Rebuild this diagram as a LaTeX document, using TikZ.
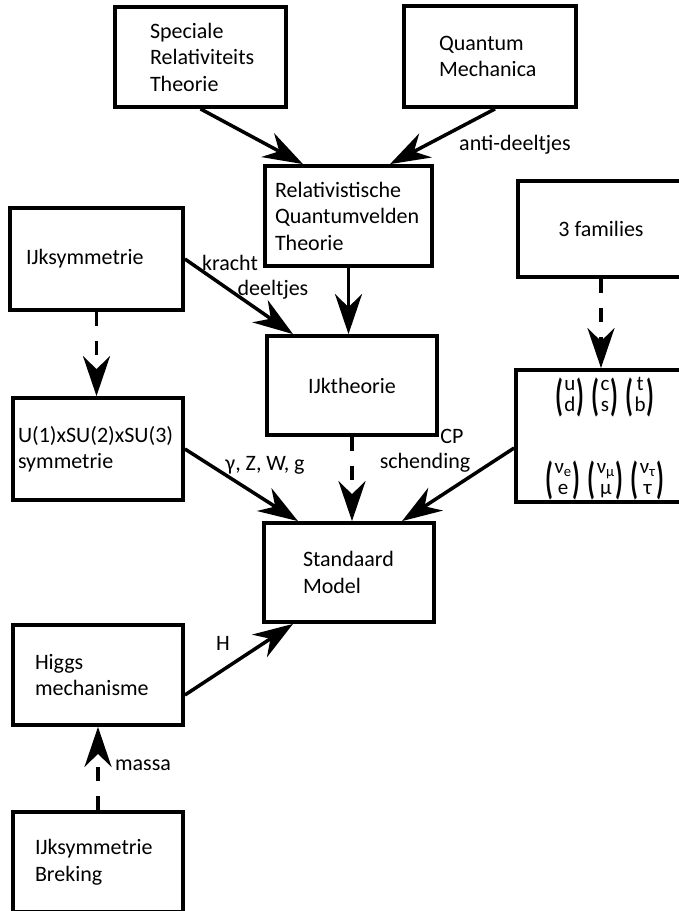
\documentclass[tikz,border=0pt]{standalone}
\usepackage{fontspec}
\setmainfont{Carlito}
\usepackage{graphicx}
\usetikzlibrary{arrows.meta}
\newcommand{\haakje}[1]{\vcenter{\hbox{\scalebox{1.15}[2.0]{\bfseries #1}}}}
\newcommand{\dublet}[2]{$\haakje{(}\mkern1mu\vcenter{\hbox{\fontsize{21}{21}\selectfont\begin{tabular}{@{}c@{}}#1\\#2\end{tabular}}}\mkern1mu\haakje{)}$}

\begin{document}
\begin{tikzpicture}[x=1pt,y=-1pt,
	font=\fontsize{22}{26.5}\selectfont,
	vak/.style={draw,line width=3.8pt,inner sep=0pt,align=left,minimum width=170pt,minimum height=100pt},
	pijl/.style={-{Stealth[length=40pt,width=27pt,inset=13pt]},line width=3.5pt},
	streep/.style={pijl,dash pattern=on 14pt off 15pt},
	lab/.style={inner sep=0pt}]
		\useasboundingbox (0,0) rectangle (678,911);
		\node[vak,minimum width=171pt,text width=101pt] (srt) at (200.5,57) {Speciale\\Relativiteits\\Theorie};
		\node[vak,minimum width=172pt,minimum height=101pt,text width=102pt] (qm) at (490,56.5) {Quantum\\Mechanica};
		\node[vak,minimum width=167pt,text width=147pt] (rqt) at (348.5,216) {Relativistische\\Quantumvelden\\Theorie};
		\node[vak,minimum width=173pt,minimum height=102pt,text width=141pt] (ijk) at (96.5,259) {IJksymmetrie};
		\node[vak,minimum width=166pt,minimum height=96pt,align=center] (fam) at (601,229) {3 families};
		\node[vak,minimum height=99pt,align=center] (ijkth) at (352,385.5) {IJktheorie};
		\node[vak,minimum height=102pt,text width=160pt] (u1) at (98,449) {U(1)xSU(2)xSU(3)\\symmetrie};
		\node[vak,minimum height=132pt] (gen) at (601,436) {};
		\node (quarks) at (605,397) {\dublet{u}{d}\hspace{7pt}\dublet{c}{s}\hspace{7pt}\dublet{t}{b}};
		\node (leptonen) at (605,480) {\dublet{ν\textsubscript{e}}{e}\hspace{7pt}\dublet{ν\textsubscript{μ}}{μ}\hspace{7pt}\dublet{ν\textsubscript{τ}}{τ}};
		\node[vak,minimum height=99pt,text width=92pt] (sm) at (349,572.5) {Standaard\\Model};
		\node[vak,text width=126pt] (higgs) at (98,675) {Higgs\\mechanisme};
		\node[vak,text width=126pt] (breking) at (98,862) {IJksymmetrie\\Breking};
		%
		\node[lab] (anti) at (515,145) {anti-deeltjes};
		\node[lab] (kracht) at (230,263) {kracht};
		\node[lab] (deeltjes) at (273,290) {deeltjes};
		\node[lab] (bosonen) at (265,465) {γ, Z, W, g};
		\node[lab] (cp) at (452,436) {CP};
		\node[lab] (schending) at (425,463) {schending};
		\node[lab] (h) at (223,643) {H};
		\node[lab] (massa) at (143,765) {massa};
		%
		\path[pijl]
		(srt.south) edge ([xshift=-45.5pt]rqt.north)
		([xshift=5pt]qm.south) edge ([xshift=41.5pt]rqt.north)
		(rqt.south) edge (rqt.south |- ijkth.north)
		(ijk.east) edge ([xshift=-59pt]ijkth.north)
		(u1.east) edge ([xshift=-51pt]sm.north)
		([yshift=-12pt]gen.west) edge ([xshift=53pt]sm.north)
		([yshift=-20pt]higgs.east) edge ([xshift=-56pt]sm.south);
		\path[streep]
		(ijk.south) edge (ijk.south |- u1.north)
		(fam.south) edge (fam.south |- gen.north)
		(ijkth.south) edge (ijkth.south |- sm.north)
		(breking.north) edge (breking.north |- higgs.south);
	\end{tikzpicture}
\end{document}
